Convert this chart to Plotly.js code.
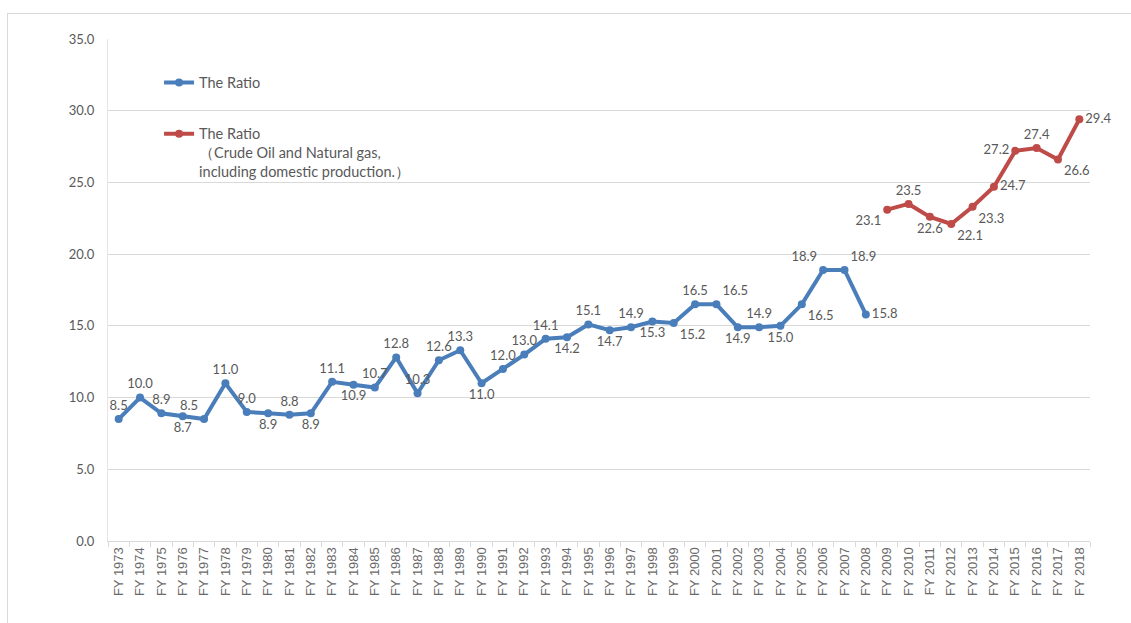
<!DOCTYPE html>
<html>
<head>
<meta charset="utf-8">
<script src="https://cdn.plot.ly/plotly-3.0.1.min.js"></script>
<style>
  html, body { margin: 0; padding: 0; background: #fff; }
  #frame { position: absolute; left: 7px; top: 13px; width: 1124px; height: 610px; border-top: 1px solid #d9d9d9; border-left: 1px solid #d9d9d9; }
  #chart { position: absolute; left: 0; top: 0; width: 1131px; height: 623px; }
</style>
</head>
<body>
<div id="frame"></div>
<div id="chart"></div>
<script>
const years = ["FY 1973","FY 1974","FY 1975","FY 1976","FY 1977","FY 1978","FY 1979","FY 1980","FY 1981","FY 1982",
  "FY 1983","FY 1984","FY 1985","FY 1986","FY 1987","FY 1988","FY 1989","FY 1990","FY 1991","FY 1992",
  "FY 1993","FY 1994","FY 1995","FY 1996","FY 1997","FY 1998","FY 1999","FY 2000","FY 2001","FY 2002",
  "FY 2003","FY 2004","FY 2005","FY 2006","FY 2007","FY 2008","FY 2009","FY 2010","FY 2011","FY 2012",
  "FY 2013","FY 2014","FY 2015","FY 2016","FY 2017","FY 2018"];

const blueYears = years.slice(0, 36);
const blueValues = [8.5,10.0,8.9,8.7,8.5,11.0,9.0,8.9,8.8,8.9,
  11.1,10.9,10.7,12.8,10.3,12.6,13.3,11.0,12.0,13.0,
  14.1,14.2,15.1,14.7,14.9,15.3,15.2,16.5,16.5,14.9,
  14.9,15.0,16.5,18.9,18.9,15.8];
const bluePos = ["top center","top center","top center","bottom center","top left","top center","top center","bottom center","top center","bottom center",
  "top center","bottom center","top center","top center","top center","top center","top center","bottom center","top center","top center",
  "top center","bottom center","top center","bottom center","top center","bottom center","bottom right","top center","top right","bottom center",
  "top center","bottom center","bottom right","top left","top right","middle right"];

const redYears = years.slice(36);
const redValues = [23.1,23.5,22.6,22.1,23.3,24.7,27.2,27.4,26.6,29.4];
const redPos = ["bottom left","top center","bottom center","bottom right","bottom right","middle right","middle left","top center","bottom right","middle right"];

const blueName = "The Ratio";
const redName = "The Ratio<br>（Crude Oil and Natural gas,<br>including domestic production.）";

const labelFont = {family: "Lato, 'Open Sans', sans-serif", size: 13, color: "#595959"};
const legendFont = {family: "Lato, 'Open Sans', sans-serif", size: 14.5, color: "#595959"};

const traces = [
  {
    x: blueYears, y: blueValues, type: "scatter", mode: "lines+markers+text",
    name: blueName, legend: "legend",
    line: {color: "#4a7ebb", width: 4},
    marker: {color: "#4a7ebb", size: 8},
    text: blueValues.map(v => v.toFixed(1)),
    textposition: bluePos, textfont: labelFont, cliponaxis: false,
    hoverinfo: "x+y"
  },
  {
    x: redYears, y: redValues, type: "scatter", mode: "lines+markers+text",
    name: redName, legend: "legend2",
    line: {color: "#be4b48", width: 4},
    marker: {color: "#be4b48", size: 8},
    text: redValues.map(v => v.toFixed(1)),
    textposition: redPos, textfont: labelFont, cliponaxis: false,
    hoverinfo: "x+y"
  }
];

const layout = {
  width: 1131, height: 623,
  margin: {l: 108, r: 41, t: 39, b: 82},
  paper_bgcolor: "rgba(0,0,0,0)",
  plot_bgcolor: "rgba(0,0,0,0)",
  showlegend: true,
  font: {family: "Lato, 'Open Sans', sans-serif", color: "#595959"},
  xaxis: {
    type: "category", categoryorder: "array", categoryarray: years,
    range: [-0.5, 45.5],
    tickangle: -90,
    tickfont: {family: "'Liberation Sans', Arial, sans-serif", size: 13, color: "#6a6a6a"},
    showline: true, linecolor: "#d9d9d9", linewidth: 1,
    ticks: "outside", ticklen: 5, tickcolor: "#d9d9d9", tickson: "boundaries",
    showgrid: false, zeroline: false, automargin: false
  },
  yaxis: {
    range: [0, 35], dtick: 5, tick0: 0, tickformat: ".1f",
    tickfont: {family: "Lato, 'Open Sans', sans-serif", size: 13, color: "#595959"},
    showgrid: true, gridcolor: "#d9d9d9", gridwidth: 1,
    showline: true, linecolor: "#e6e6e6", linewidth: 1,
    zeroline: false, ticks: "", ticklabelstandoff: 10, automargin: false
  },
  legend: {
    x: 0.052, y: 0.945, xanchor: "left", yanchor: "top",
    bgcolor: "rgba(0,0,0,0)", borderwidth: 0,
    font: legendFont, itemwidth: 30
  },
  legend2: {
    x: 0.052, y: 0.843, xanchor: "left", yanchor: "top",
    bgcolor: "rgba(0,0,0,0)", borderwidth: 0, valign: "top",
    font: legendFont, itemwidth: 30
  }
};

Plotly.newPlot("chart", traces, layout, {displayModeBar: false, staticPlot: true});
</script>
</body>
</html>
